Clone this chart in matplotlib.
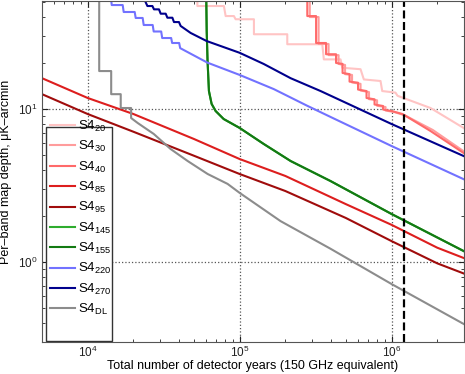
import matplotlib
matplotlib.use('Agg')
import matplotlib.pyplot as plt
from matplotlib.patches import Rectangle
from matplotlib.ticker import LogLocator, NullFormatter

plt.rcParams['font.family'] = ['Liberation Sans', 'DejaVu Sans']
plt.rcParams['mathtext.default'] = 'regular'

# detector years (x) and map depth in uK-arcmin (y)
x_20 = [52700, 52700, 78800, 80900, 91700, 94100, 124200, 124200, 205900, 205900,
        350000, 358500, 461900, 474000, 625200, 657300, 846500, 868600, 1.062e6,
        1.095e6, 1.806e6, 2.98e6]
y_20 = [60, 47.1, 47.1, 40.5, 40.5, 38.6, 38.6, 30.8, 30.8, 26.5,
        26.5, 21.1, 21.1, 18.6, 18.2, 15.6, 15.24, 13.1, 12.8,
        12.2, 10.15, 7.52]

x_30 = [289700, 289700, 331000, 331000, 385000, 385000, 448000, 448000, 494500, 494500,
        549700, 549700, 625200, 625200, 711000, 711000, 803000, 803000, 913500, 913500,
        1.039e6, 1.22e6, 1.87e6, 2.98e6]
y_30 = [60, 39.9, 39.9, 26.6, 26.6, 22.5, 22.5, 19.7, 19.4, 16.9,
        16.7, 14.9, 14.6, 13.2, 12.9, 11.6, 11.4, 10.5, 10.3, 9.77,
        9.56, 9.1, 7.29, 5.3]

x_40 = [278900, 278900, 318700, 318700, 370700, 370700, 431300, 431300, 476100, 476100,
        529300, 529300, 602000, 602000, 684600, 684600, 773000, 773000, 879500, 879500,
        1.0e6, 1.182e6, 1.806e6, 2.98e6]
y_40 = [60, 40.5, 40.5, 27.0, 27.0, 22.8, 22.8, 20.0, 19.7, 17.2,
        16.9, 15.1, 14.85, 13.4, 13.1, 11.8, 11.57, 10.7, 10.46, 9.92,
        9.70, 9.27, 7.18, 5.16]

x_85 = [5000, 10000, 20000, 50000, 1e5, 2e5, 5e5, 1e6, 2e6, 3e6]
y_85 = [15.9, 11.8, 9.27, 6.37, 4.71, 3.65, 2.39, 1.75, 1.24, 1.06]

x_95 = [5000, 10000, 20000, 50000, 1e5, 2e5, 5e5, 1e6, 2e6, 3e6]
y_95 = [12.5, 9.27, 7.1, 4.95, 3.76, 2.91, 1.94, 1.37, 0.98, 0.84]

x_155 = [60200, 60700, 61500, 62800, 65400, 69500, 78500, 1e5, 144000, 216700,
         397000, 1.0e6, 2.98e6]
y_155 = [60, 32.4, 20.6, 13.1, 10.8, 9.7, 8.6, 7.52, 5.91, 4.57,
         3.38, 2.06, 1.18]
x_145 = x_155
y_145 = y_155

x_220 = [14170, 14390, 16990, 17250, 20380, 20690, 23000, 23360, 26770, 27180,
         30450, 30920, 35420, 35960, 39990, 40600, 61300, 1e5, 167600, 278500,
         397000, 1.0e6, 2.98e6]
y_220 = [55, 47.8, 47.8, 43.05, 43.05, 39.35, 39.35, 35.4, 35.4, 32.1,
         32.1, 29.1, 29.1, 27.0, 27.0, 25.0, 20.1, 16.7, 13.5, 10.5,
         8.87, 5.73, 3.48]

x_270 = [23000, 24710, 26650, 27310, 29450, 30220, 32600, 33450, 36080, 36970,
         39870, 40900, 47600, 60700, 1e5, 144000, 216600, 341400, 1.0e6, 2.98e6]
y_270 = [55, 47.1, 47.1, 44.8, 44.8, 41.97, 41.97, 39.5, 39.5, 37.0,
         37.0, 34.9, 31.4, 27.8, 23.3, 19.7, 15.9, 13.1, 7.98, 4.93]

x_dl = [11900, 11900, 14270, 14270, 16490, 16490, 19300, 19300, 21330, 27200,
        35100, 45500, 61600, 83300, 1e5, 186000, 397000, 1.0e6, 2.98e6]
y_dl = [60, 17.7, 17.7, 12.5, 12.5, 10.15, 10.15, 8.73, 8.1, 6.87,
        5.48, 4.57, 3.76, 3.24, 2.83, 1.85, 1.22, 0.718, 0.394]

target_years = 1.2e6

series = [
    (x_20, y_20, '#ffc4c4', r'S4$_{20}$'),
    (x_30, y_30, '#ff9c9c', r'S4$_{30}$'),
    (x_40, y_40, '#ff6a6a', r'S4$_{40}$'),
    (x_85, y_85, '#dd1e1e', r'S4$_{85}$'),
    (x_95, y_95, '#a00c0c', r'S4$_{95}$'),
    (x_145, y_145, '#2eac2e', r'S4$_{145}$'),
    (x_155, y_155, '#137a13', r'S4$_{155}$'),
    (x_220, y_220, '#7272ff', r'S4$_{220}$'),
    (x_270, y_270, '#00008c', r'S4$_{270}$'),
    (x_dl, y_dl, '#8c8c8c', r'S4$_{DL}$'),
]

fig = plt.figure(figsize=(4.65, 3.74), dpi=100)
ax = fig.add_axes([42 / 465, 1 - 342 / 374, 422 / 465, 341 / 374])

for xs, ys, c, lab in series:
    ax.plot(xs, ys, color=c, lw=1.5, label=lab)

ax.axvline(target_years, color='black', ls='--', lw=1.6, dashes=(3.6, 1.6))

ax.set_xscale('log')
ax.set_yscale('log')
ax.set_xlim(5000, 3e6)
ax.set_ylim(0.3, 50.8)

ax.xaxis.set_major_locator(LogLocator(base=10, numticks=10))
ax.xaxis.set_minor_locator(LogLocator(base=10, subs=range(2, 10), numticks=20))
ax.xaxis.set_minor_formatter(NullFormatter())
ax.yaxis.set_minor_formatter(NullFormatter())

ax.grid(True, which='major', ls=':', color='#555555', lw=0.9)
ax.tick_params(which='both', direction='in', top=True, right=True,
               labelsize=8.5, colors='#222222')
ax.tick_params(which='major', length=4)
ax.tick_params(which='minor', length=2)
ax.tick_params(axis='x', pad=2)
for s in ax.spines.values():
    s.set_color('#555555')

ax.set_xlabel('Total number of detector years (150 GHz equivalent)', fontsize=9, labelpad=0)
ax.set_ylabel('Per\u2013band map depth, \u03bcK\u2013arcmin', fontsize=9, labelpad=4)

# legend box drawn by hand, text a bit wider than the box like the original
ax.add_patch(Rectangle((0.0088, 0.003), 0.156, 0.628, transform=ax.transAxes,
                       facecolor='white', edgecolor='#333333', lw=1.0, zorder=4))
leg = ax.legend(loc='upper left', bbox_to_anchor=(0.019, 0.655), borderaxespad=0,
                fontsize=9.5, frameon=False, handlelength=1.9, labelspacing=0.4,
                handletextpad=0.25, borderpad=0)

fig.savefig('out.png', dpi=100)
